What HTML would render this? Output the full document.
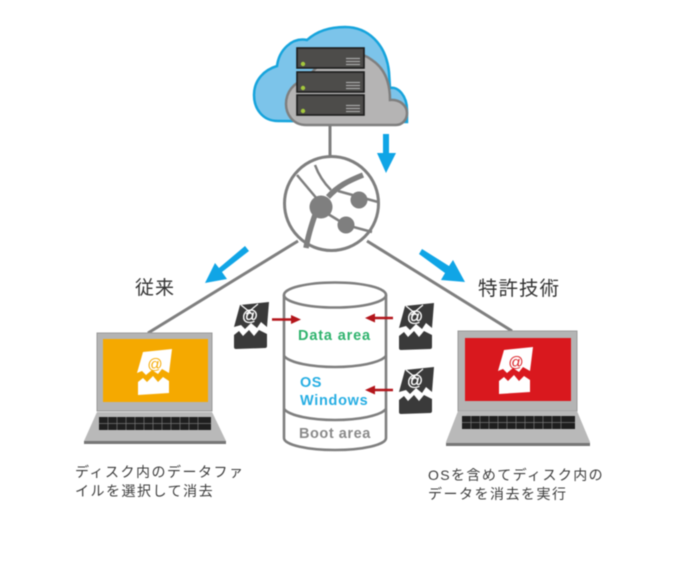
<!DOCTYPE html>
<html lang="ja">
<head>
<meta charset="utf-8">
<title>Diagram</title>
<style>
html,body{margin:0;padding:0;background:#fff;width:680px;height:561px;overflow:hidden}
svg{display:block;filter:blur(.55px)}
text{font-family:"Liberation Sans","Noto Sans CJK JP",sans-serif}
</style>
</head>
<body>
<svg width="680" height="561" viewBox="0 0 680 561" xmlns="http://www.w3.org/2000/svg">
<defs>
<g id="mail">
  <path d="M7,4 L36,1 L34,26 L28,21 L24,27 L18,22 L12,28 L8,24 L1,26 Z"/>
  <path d="M1,34 L6,30 L10,35 L16,29 L21,35 L26,29 L34,33 L34,45 Q34,47 32,47 L3,48 Q1,48 1,46 Z"/>
</g>
<g id="srv">
  <rect x="0" y="0" width="67" height="20" fill="#4d4c4a" stroke="#1c1c1c" stroke-width="1.6"/>
  <circle cx="6" cy="16" r="2.2" fill="#a4c83c"/>
  <path d="M49,10.5H63M49,13.5H63M49,16.5H63" stroke="#a8a8a8" stroke-width="1.3"/>
</g>
</defs>

<!-- connectors -->
<g stroke="#7f7f7f" stroke-width="3" fill="none">
  <line x1="330" y1="124" x2="330" y2="159"/>
  <line x1="298" y1="241" x2="148" y2="333"/>
  <line x1="367" y1="241" x2="512" y2="331"/>
</g>

<!-- cloud -->
<path d="M278,121 C262,121 254,108 254,95 C254,80 264,70 277,66 C279,50 292,37 307,40 C318,30 332,27 345,27 C368,27 386,44 389,72 L390,88 C398,86 407,96 407,110 L407,122 Z" fill="#7cc4ea" stroke="#16a4dc" stroke-width="2.5"/>
<path d="M306,125 C292,125 286,113 286,104 C286,92 294,82 305,80 L325,58 C345,50 362,52 372,60 C384,68 390,82 390,100 C400,99 407,106 407,113 C407,120 402,125 396,125 Z" fill="#b5b4b4" stroke="#7f7f7f" stroke-width="2.5"/>
<use href="#srv" x="297" y="48"/>
<use href="#srv" x="297" y="72"/>
<use href="#srv" x="297" y="95"/>

<!-- globe -->
<circle cx="331.5" cy="203.5" r="47" fill="#fff" stroke="#7f7f7f" stroke-width="3"/>
<g stroke="#7f7f7f" fill="none" stroke-linecap="butt">
  <path d="M306,248 C308,236 311,226 316,212" stroke-width="5.5"/>
  <path d="M328,197 C338,186 348,181 363,175" stroke-width="5.5"/>
  <path d="M297,175 L318,200" stroke-width="2.5"/>
  <path d="M315,165 C319,176 324,183 331,190" stroke-width="2.5"/>
  <path d="M338,191 L378,202" stroke-width="2.5"/>
  <path d="M328,214 L346,225 L372,232" stroke-width="2.5"/>
</g>
<g fill="#7f7f7f">
  <circle cx="321" cy="207" r="11.5"/>
  <circle cx="359" cy="200" r="8.5"/>
  <circle cx="346" cy="225" r="8.5"/>
</g>

<!-- blue arrows -->
<g fill="#10a5e6">
  <path d="M383,134H389V153H396L386,173L377,153H383Z"/>
  <path d="M245,246 L249,251 L222,272 L227,279 L205,283 L215,263 L219,268 Z"/>
  <path d="M419,254 L422,249 L449,266 L453,260 L465,282 L441,280 L445,273 Z"/>
</g>

<!-- cylinder -->
<g fill="#fff" stroke="#7f7f7f" stroke-width="2.6">
  <path d="M284,295 V438 C284,445 308,450 335,450 C362,450 386,445 386,438 V295"/>
  <ellipse cx="335" cy="295" rx="51" ry="12.5"/>
</g>
<g fill="none" stroke="#7f7f7f" stroke-width="2.6">
  <path d="M284,356 C290,363 312,367 335,367 C358,367 380,363 386,356"/>
  <path d="M284,409 C290,416 312,420 335,420 C358,420 380,416 386,409"/>
</g>
<text x="298" y="340" font-size="14.5" font-weight="700" fill="#2fb36d" letter-spacing=".85">Data area</text>
<text x="300" y="387" font-size="14.5" font-weight="700" fill="#27aee3" letter-spacing=".5">OS</text>
<text x="300" y="405" font-size="14.5" font-weight="700" fill="#27aee3" letter-spacing=".7">Windows</text>
<text x="299" y="438" font-size="14.5" font-weight="700" fill="#8a8a8a" letter-spacing=".55">Boot area</text>

<!-- mail icons -->
<g fill="#3a3a3a">
  <use href="#mail" x="233" y="301"/>
  <use href="#mail" x="398" y="302"/>
  <use href="#mail" x="398" y="366"/>
</g>
<g stroke="#fff" stroke-width="1.2" fill="none">
  <path d="M241,305L251,313M258,304L246,314"/>
  <path d="M406,306L416,314M423,305L411,315"/>
  <path d="M406,370L416,378M423,369L411,379"/>
</g>
<g fill="#fff" font-size="16" text-anchor="middle" stroke="#fff" stroke-width=".3">
  <text x="250" y="321">@</text>
  <text x="415" y="322">@</text>
  <text x="415" y="386">@</text>
</g>

<!-- red arrows -->
<g stroke="#b3151b" stroke-width="2.4" fill="#b3151b">
  <line x1="272" y1="319.5" x2="293" y2="319.5"/>
  <path d="M301,319.5L291,315V324Z" stroke="none"/>
  <line x1="393" y1="318" x2="372" y2="318"/>
  <path d="M365,318L375,313.5V322.5Z" stroke="none"/>
  <line x1="393" y1="390" x2="372" y2="390"/>
  <path d="M365,390L375,385.5V394.5Z" stroke="none"/>
</g>

<!-- left laptop -->
<rect x="97" y="333" width="115" height="78" fill="#b4b4b4" stroke="#9a9a9a"/>
<rect x="103" y="339" width="105" height="63" fill="#f5a900"/>
<path d="M97,412H212L226,441V444H84V441Z" fill="#b9b9b9"/>
<rect x="84" y="441" width="142" height="3" fill="#777"/>
<rect x="99" y="417" width="112" height="13" fill="#1f1f1f"/>
<path d="M99,423.5H211M108,417V430M117,417V430M126,417V430M135,417V430M144,417V430M153,417V430M162,417V430M171,417V430M180,417V430M189,417V430M198,417V430" stroke="#777" stroke-width=".7"/>
<g fill="#fff">
  <path d="M143,352 L172,349 L169,373 L162,369 L158,374 L152,370 L146,375 L142,371 L137,373 Z"/>
  <path d="M138,382 L143,378 L147,382 L153,376 L158,382 L163,377 L169,381 L169,393 L138,395 Z"/>
</g>
<text x="155" y="369" font-size="15" fill="#f5a900" text-anchor="middle">@</text>

<!-- right laptop -->
<rect x="458" y="331" width="119" height="80" fill="#b4b4b4" stroke="#9a9a9a"/>
<rect x="465" y="338" width="106" height="63" fill="#d9181e"/>
<path d="M458,411H577L590,442V446H446V442Z" fill="#b9b9b9"/>
<rect x="446" y="443" width="144" height="3" fill="#777"/>
<rect x="462" y="416" width="113" height="13" fill="#1f1f1f"/>
<path d="M462,422.5H575M471,416V429M480,416V429M489,416V429M498,416V429M507,416V429M516,416V429M525,416V429M534,416V429M543,416V429M552,416V429M561,416V429" stroke="#777" stroke-width=".7"/>
<g fill="#fff">
  <path d="M504,350 L533,347 L530,371 L523,367 L519,372 L513,368 L507,373 L503,369 L498,371 Z"/>
  <path d="M499,381 L504,377 L508,381 L514,375 L519,381 L524,376 L530,380 L530,392 L499,394 Z"/>
</g>
<text x="516" y="367" font-size="15" fill="#d9181e" text-anchor="middle">@</text>

<!-- labels -->
<g fill="#333">
  <text x="135" y="294" font-size="19" letter-spacing="1">従来</text>
  <text x="478" y="295" font-size="19.5" letter-spacing="1">特許技術</text>
</g>
<g fill="#3c3c3c" font-size="14">
  <text x="75" y="477" letter-spacing="1.5">ディスク内のデータファ</text>
  <text x="75" y="496" letter-spacing="1.5">イルを選択して消去</text>
  <text x="428" y="480" letter-spacing="1.4">OSを含めてディスク内の</text>
  <text x="428" y="499" letter-spacing="1.5">データを消去を実行</text>
</g>
</svg>
</body>
</html>
